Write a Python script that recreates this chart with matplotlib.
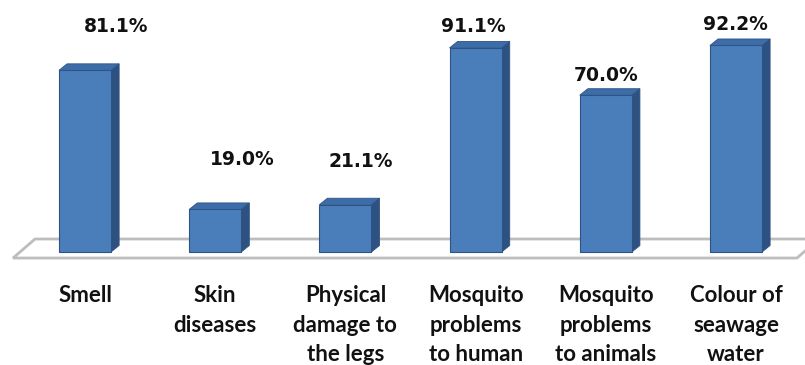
import matplotlib
matplotlib.use("Agg")
import matplotlib.pyplot as plt
from matplotlib.patches import Polygon

# Survey responses: share of respondents naming each problem
categories = [
    "Smell",
    "Skin\ndiseases",
    "Physical\ndamage to\nthe legs",
    "Mosquito\nproblems\nto human",
    "Mosquito\nproblems\nto animals",
    "Colour of\nseawage\nwater",
]
values = [81.1, 19.0, 21.1, 91.1, 70.0, 92.2]
value_labels = ["81.1%", "19.0%", "21.1%", "91.1%", "70.0%", "92.2%"]

# where each value label sits relative to the top of its bar (pixels)
label_offsets = [(31, 44), (27, 50), (15, 43), (-2, 21), (0, 20), (-1, 21)]

FRONT = "#4A7EBB"
SIDE = "#2D5282"
TOP = "#3D6DA8"
EDGE = "#2E5283"
FLOOR_EDGE = "#BDBDBD"

bar_w = 0.40      # width of the front face (category units)
depth_x = 0.062   # horizontal shift of the receding faces
depth_y = 2.9     # vertical shift of the receding faces (percent units)

fig = plt.figure(figsize=(8.05, 3.65), dpi=100)
ax = fig.add_axes([0, 0, 1, 1])
ax.set_xlim(-0.653, 5.530)
ax.set_ylim(-50.45, 112.5)
ax.axis("off")

# floor of the 3-D plot area
floor = Polygon(
    [(-0.553, -2.7), (5.468, -2.7), (5.637, 5.8), (-0.384, 5.8)],
    closed=True, facecolor="white", edgecolor=FLOOR_EDGE, linewidth=2.0,
    zorder=1,
)
ax.add_patch(floor)

xs = list(range(len(categories)))
ax.bar(xs, values, width=bar_w, color=FRONT, edgecolor=EDGE,
       linewidth=0.8, zorder=3)

for x, v in zip(xs, values):
    r = x + bar_w / 2
    l = x - bar_w / 2
    side = Polygon([(r, 0), (r + depth_x, depth_y), (r + depth_x, v + depth_y), (r, v)],
                   closed=True, facecolor=SIDE, edgecolor=EDGE, linewidth=0.6, zorder=2)
    top = Polygon([(l, v), (r, v), (r + depth_x, v + depth_y), (l + depth_x, v + depth_y)],
                  closed=True, facecolor=TOP, edgecolor=EDGE, linewidth=0.6, zorder=4)
    ax.add_patch(side)
    ax.add_patch(top)

for x, v, txt, (dx, dy) in zip(xs, values, value_labels, label_offsets):
    ax.annotate(txt, xy=(x, v), xytext=(dx, dy), textcoords="offset pixels",
                ha="center", va="center", fontsize=13.5, fontweight="bold",
                family="DejaVu Sans", color="#111111", zorder=5)

for x, name in zip(xs, categories):
    ax.text(x, -14.6, name, ha="center", va="top", multialignment="center",
            fontsize=16, fontweight="bold", family="Lato", color="#111111",
            linespacing=1.52)

fig.savefig("out.png", dpi=100)
